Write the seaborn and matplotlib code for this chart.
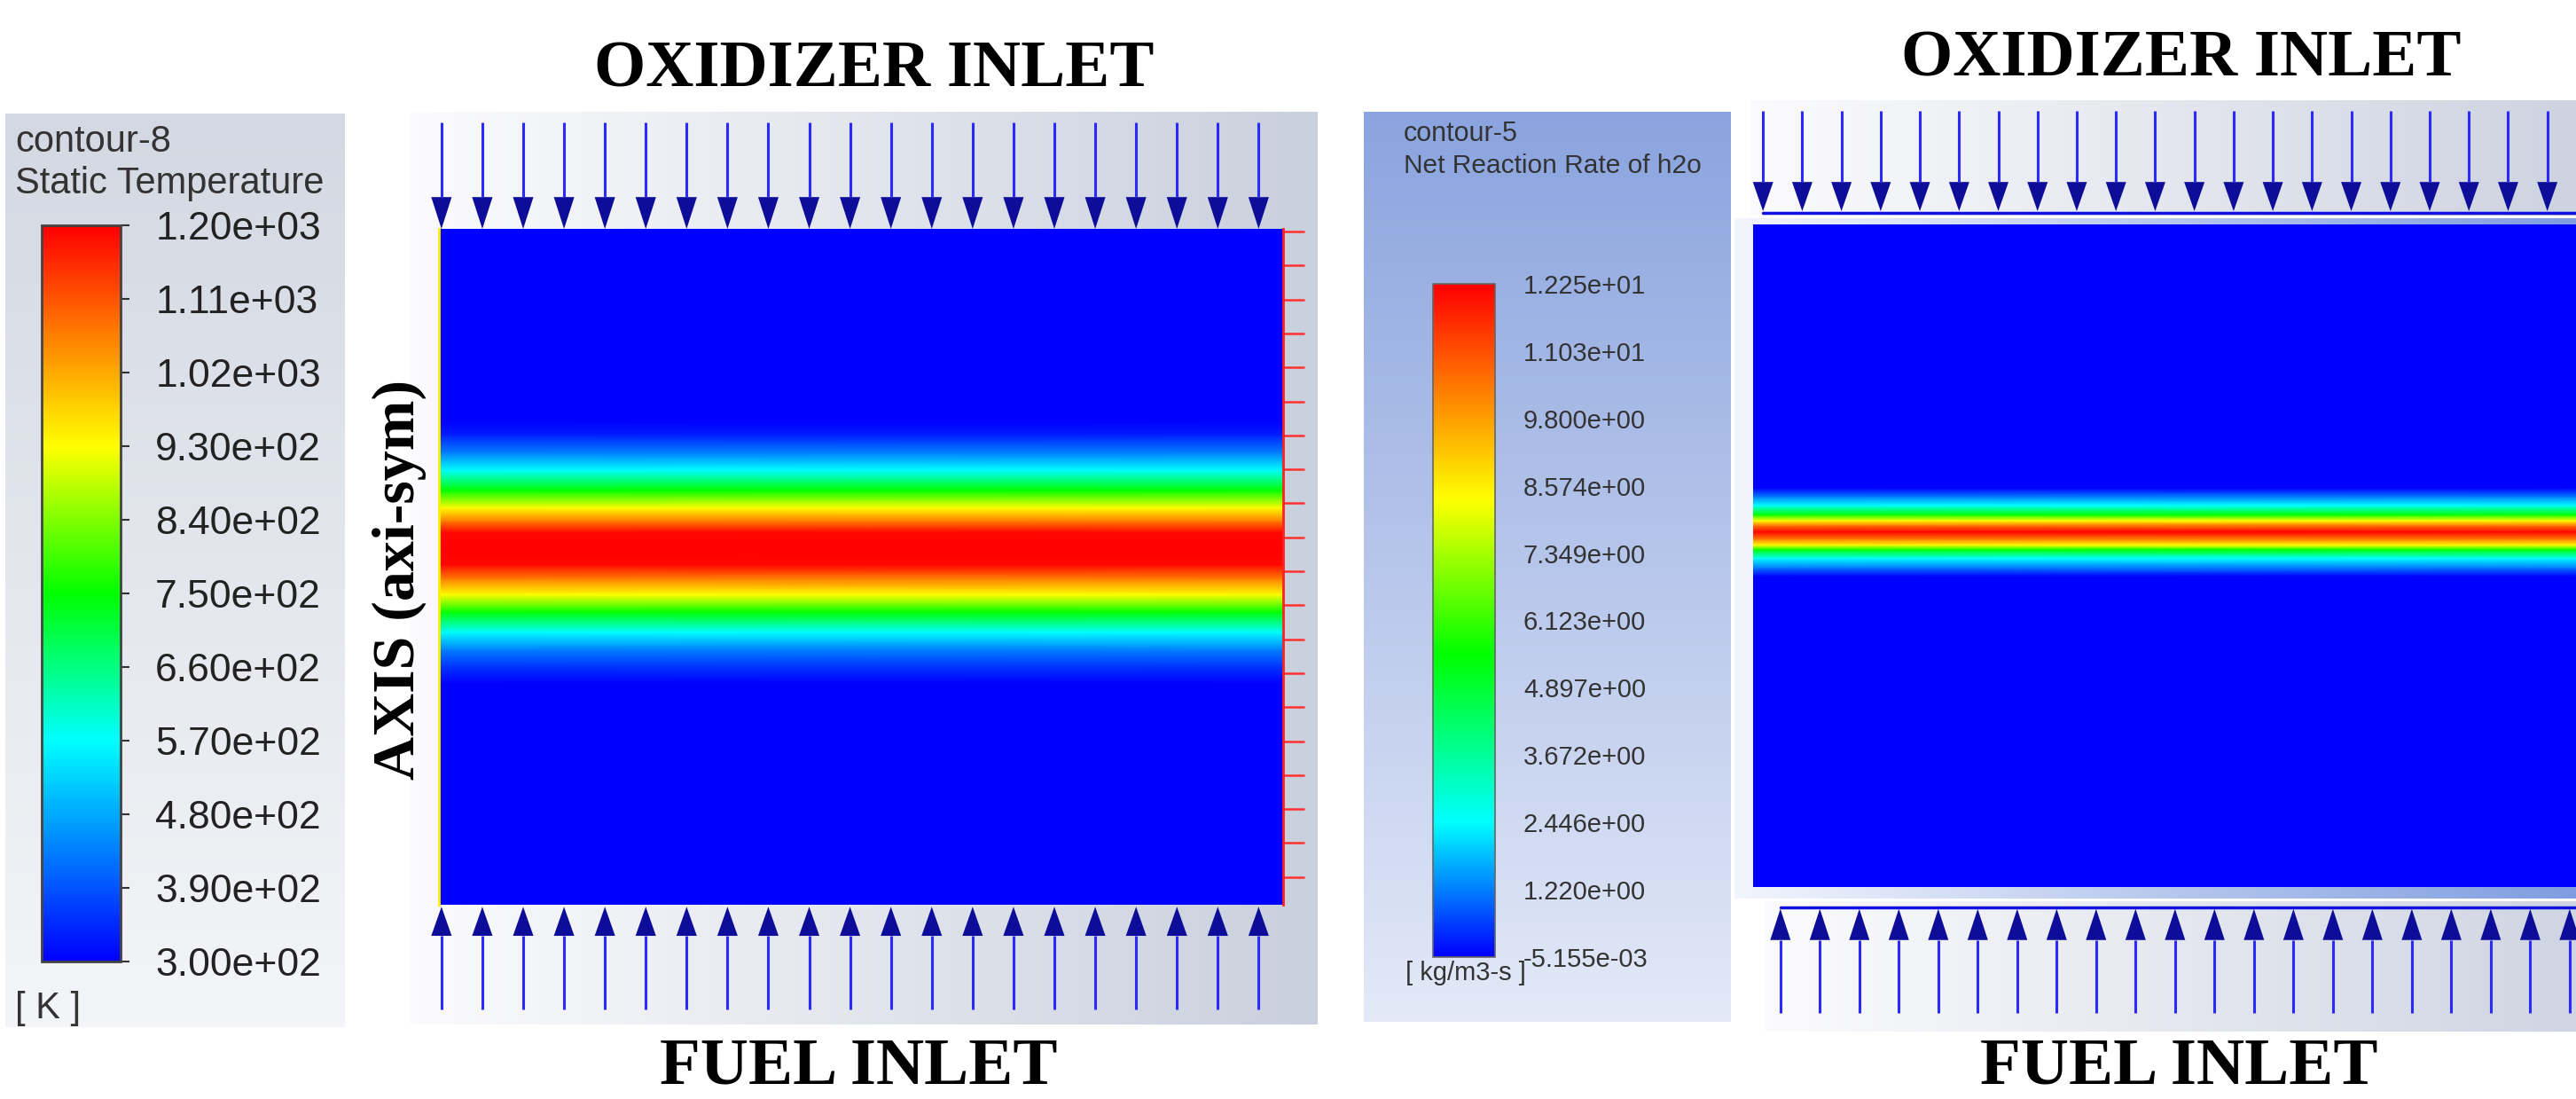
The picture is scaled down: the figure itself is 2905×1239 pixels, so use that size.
import numpy as np
import matplotlib
matplotlib.use("Agg")
import matplotlib.pyplot as plt
from matplotlib.colors import LinearSegmentedColormap, Normalize
import seaborn as sns

# ---- values ----
# axial position across the domain (0 = fuel inlet, 1 = oxidizer inlet)
temp_pos = [0.0, 0.328, 0.354, 0.377, 0.403, 0.433, 0.459, 0.482, 0.503, 0.528,
            0.551, 0.568, 0.587, 0.613, 0.643, 0.669, 0.696, 0.715, 1.0]
temp_val = [300, 300, 360, 435, 570, 750, 930, 1065, 1190, 1200,
            1190, 1065, 930, 750, 570, 435, 330, 300, 300]          # [K]

rate_pos = [0.0, 0.469, 0.482, 0.496, 0.509, 0.516, 0.525, 0.536,
            0.546, 0.553, 0.562, 0.576, 0.589, 0.602, 1.0]
rate_val = [-0.005, -0.005, 1.22, 2.45, 5.5, 8.33, 10.3, 12.25,
            10.3, 8.33, 5.5, 2.45, 1.22, -0.005, -0.005]           # [kg/m3-s]

temp_ticks = [300, 390, 480, 570, 660, 750, 840, 930, 1020, 1110, 1200]
rate_ticks = [-0.005155, 1.220, 2.446, 3.672, 4.897, 6.123, 7.349, 8.574, 9.800, 11.03, 12.25]

n_arrows = 21
n_wall_marks = 20

W, H = 2905, 1239

sns.set_theme(style="white")
plt.rcParams["font.family"] = ["Liberation Sans", "DejaVu Sans"]


def fluent_cmap(stops):
    cols = ["#0000ff", "#00ffff", "#00ff00", "#ffff00", "#ff8000", "#ff0000"]
    return LinearSegmentedColormap.from_list("fluent", list(zip(stops, cols)))


cmap_t = fluent_cmap([0.0, 0.3, 0.5, 0.7, 0.85, 1.0])
cmap_r = fluent_cmap([0.0, 0.2, 0.45, 0.68, 0.84, 1.0])

fig = plt.figure(figsize=(W / 100, H / 100), dpi=100)


def px_axes(x0, y0, x1, y1, **kw):
    return fig.add_axes([x0 / W, 1 - y1 / H, (x1 - x0) / W, (y1 - y0) / H], **kw)


def ftext(x, y, s, **kw):
    return fig.text(x / W, 1 - y / H, s, **kw)


# background panels (screenshot frames)
bg = fig.add_axes([0, 0, 1, 1], zorder=0)
bg.axis("off")


def gradient_box(x0, y0, x1, y1, c0, c1, vertical=False):
    g = np.linspace(0, 1, 256)
    arr = g[:, None] if vertical else g[None, :]
    cm = LinearSegmentedColormap.from_list("", [c0, c1])
    bg.imshow(arr, cmap=cm, extent=(x0, x1, y1, y0), aspect="auto",
              origin="upper", interpolation="bilinear")


gradient_box(6, 128, 389, 1158, "#d3d8e2", "#f4f5f8", vertical=True)
gradient_box(463, 126, 1486, 1155, "#fbfbfd", "#c9d0dd")
gradient_box(1538, 126, 1952, 1152, "#8ba4df", "#e3e9f7", vertical=True)
gradient_box(1974, 113, 2905, 243, "#fbfbfd", "#cdd3e0")
gradient_box(1956, 246, 2905, 1013, "#f2f5fc", "#7f9de0")
gradient_box(1990, 1016, 2905, 1163, "#fbfbfd", "#cfd5e2")
bg.set_xlim(0, W)
bg.set_ylim(H, 0)


def inlet_arrows(ax, xs, tail, base, tip, half):
    ax.vlines(xs, tail, base, colors="#2a2aff", lw=2.2, clip_on=False)
    for x in xs:
        ax.fill([x - half, x + half, x], [base, base, tip], color="#0d0d99",
                lw=0, clip_on=False)


title_kw = dict(fontsize=54, fontweight="bold", family="Liberation Serif", color="black")

# ---- left panel: static temperature ----
axL = px_axes(495, 258, 1447, 1020, zorder=2)
normL = Normalize(300, 1200)
meshL = axL.pcolormesh([0, 1], temp_pos, np.column_stack([temp_val, temp_val]),
                       shading="gouraud", cmap=cmap_t, norm=normL)
axL.set_xlim(0, 1)
axL.set_ylim(0, 1)
axL.set_xticks([])
axL.yaxis.set_ticks_position("right")
axL.set_yticks(np.linspace(0.041, 0.996, n_wall_marks))
axL.tick_params(axis="y", direction="out", length=17, width=1.8, color="#ff3030",
                labelright=False, labelleft=False)
for side in ("top", "bottom"):
    axL.spines[side].set_visible(False)
axL.spines["right"].set_color("#ff2020")
axL.spines["right"].set_linewidth(2)
axL.spines["left"].set_color("#ffee00")
axL.spines["left"].set_linewidth(2)

xs_left = 0.003 + 0.0484 * np.arange(n_arrows)
inlet_arrows(axL, xs_left, 1.157, 1.047, 1.0, 0.0121)
inlet_arrows(axL, xs_left, -0.155, -0.046, -0.003, 0.0121)

caxL = px_axes(47, 254, 136, 1084, zorder=2)
cbL = fig.colorbar(meshL, cax=caxL)
cbL.set_ticks(temp_ticks, labels=[f"{v:.2e}" for v in temp_ticks])
cbL.ax.tick_params(length=7.2, width=1.5, color="#333333", pad=21,
                   labelsize=32, labelcolor="#222222")
cbL.outline.set_edgecolor("#444444")
cbL.outline.set_linewidth(2)

ftext(17, 160, "contour-8", fontsize=30, va="center", color="#333333")
ftext(17, 207, "Static Temperature", fontsize=30, va="center", color="#333333")
ftext(17, 1137, "[ K ]", fontsize=30, va="center", color="#333333")

ftext(450, 653, "AXIS (axi-sym)", rotation=90, ha="center", va="center",
      fontsize=49, fontweight="bold", family="Liberation Serif", color="black")
ftext(986, 98, "OXIDIZER INLET", ha="center", va="baseline", **title_kw)
ftext(968, 1237, "FUEL INLET", ha="center", va="bottom", **title_kw)

# ---- right panel: net reaction rate of h2o ----
axR = px_axes(1977, 253, 2910, 1000, zorder=2)
normR = Normalize(-0.005155, 12.25)
meshR = axR.pcolormesh([0, 1], rate_pos, np.column_stack([rate_val, rate_val]),
                       shading="gouraud", cmap=cmap_r, norm=normR)
axR.set_xlim(0, 1)
axR.set_ylim(0, 1)
axR.set_xticks([])
axR.set_yticks([])
for sp in axR.spines.values():
    sp.set_visible(False)

xs_top = 0.012 + 0.0474 * np.arange(n_arrows)
xs_bot = 0.033 + 0.0477 * np.arange(n_arrows)
inlet_arrows(axR, xs_top, 1.171, 1.064, 1.020, 0.0123)
inlet_arrows(axR, xs_bot, -0.190, -0.080, -0.033, 0.0123)
axR.plot([xs_top[0], 1.0], [1.017, 1.017], color="#1010e0", lw=2.5, clip_on=False)
axR.plot([xs_bot[0], 1.0], [-0.031, -0.031], color="#1010e0", lw=2.5, clip_on=False)

caxR = px_axes(1616, 320, 1686, 1079, zorder=2)
cbR = fig.colorbar(meshR, cax=caxR)
cbR.set_ticks(rate_ticks, labels=[f"{v:.3e}" for v in rate_ticks])
cbR.ax.tick_params(length=0, pad=23, labelsize=21, labelcolor="#333333")
cbR.outline.set_edgecolor("#666666")
cbR.outline.set_linewidth(1.2)

ftext(1583, 151, "contour-5", fontsize=22, va="center", color="#333333")
ftext(1583, 187, "Net Reaction Rate of h2o", fontsize=21.5, va="center", color="#333333")
ftext(1585, 1097, "[ kg/m3-s ]", fontsize=21, va="center", color="#333333")

ftext(2460, 86, "OXIDIZER INLET", ha="center", va="baseline", **title_kw)
ftext(2457, 1237, "FUEL INLET", ha="center", va="bottom", **title_kw)

fig.savefig("out.png", dpi=100)
plt.close(fig)
